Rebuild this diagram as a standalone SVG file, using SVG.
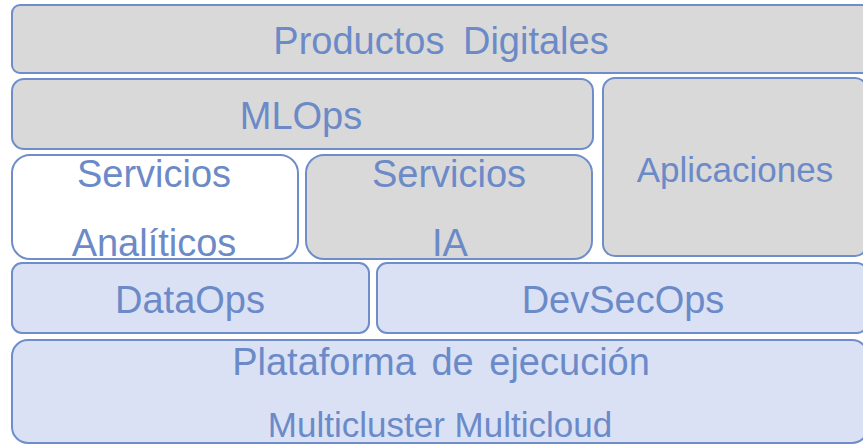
<svg xmlns="http://www.w3.org/2000/svg" width="863" height="444" viewBox="0 0 863 444">
<style>
.b{stroke:#6E8DC9;stroke-width:2}
.g{fill:#D9D9D9}
.w{fill:#FFFFFF}
.l{fill:#DAE1F5}
text{font-family:"Liberation Sans",Arial,sans-serif;fill:#6B8AC7;text-anchor:middle;font-size:38px}
</style>
<rect width="863" height="444" fill="#FFFFFF"/>
<g id="productos"><rect class="b g" x="12" y="5" width="860" height="68" rx="8"/><text x="441" y="54" word-spacing="8">Productos Digitales</text></g>
<g id="mlops"><rect class="b g" x="12" y="79" width="581" height="70" rx="12"/><text x="301" y="129">MLOps</text></g>
<g id="aplicaciones"><rect class="b g" x="603" y="78" width="264" height="178" rx="12"/><text x="735" y="182" style="font-size:35px">Aplicaciones</text></g>
<g id="analiticos"><rect class="b w" x="12" y="155" width="286" height="104" rx="18"/><text x="154" y="187">Servicios</text><text x="154" y="256">Analíticos</text></g>
<g id="ia"><rect class="b g" x="306" y="155" width="286" height="104" rx="18"/><text x="449" y="187">Servicios</text><text x="450" y="256">IA</text></g>
<g id="dataops"><rect class="b l" x="12" y="263" width="357" height="70" rx="10"/><text x="190" y="313">DataOps</text></g>
<g id="devsecops"><rect class="b l" x="377" y="263" width="490" height="70" rx="10"/><text x="623" y="313">DevSecOps</text></g>
<g id="plataforma"><rect class="b l" x="12" y="340" width="856" height="103" rx="16"/><text x="441" y="375" word-spacing="5">Plataforma de ejecución</text><text x="440" y="437" style="font-size:35px">Multicluster Multicloud</text></g>
<g id="connectors"></g>
</svg>
